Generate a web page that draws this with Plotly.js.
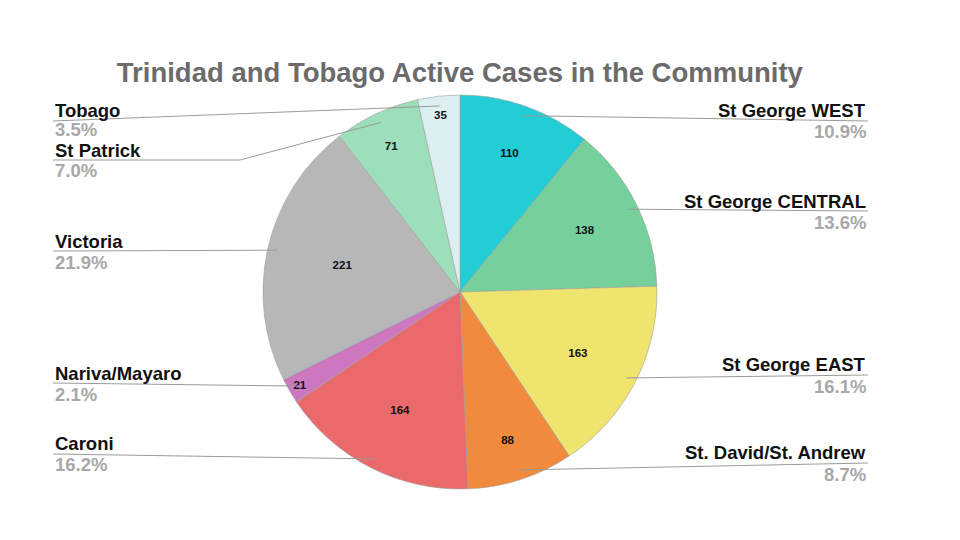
<!DOCTYPE html>
<html>
<head>
<meta charset="utf-8">
<script src="https://cdn.plot.ly/plotly-3.0.1.min.js"></script>
<style>html,body{margin:0;padding:0;background:#fff;}#chart{width:960px;height:540px;}</style>
</head>
<body>
<div id="chart"></div>
<script>
// ---- data ----
const regions = ["St George WEST","St George CENTRAL","St George EAST","St. David/St. Andrew","Caroni","Nariva/Mayaro","Victoria","St Patrick","Tobago"];
const activeCases = [110,138,163,88,164,21,221,71,35];
const sliceColors = ["#22CDD5","#76D09C","#EFE46E","#F08A3C","#EA6A6C","#CC77C0","#B7B7B7","#9DDFBA","#DDF0F1"];
const chartTitle = "Trinidad and Tobago Active Cases in the Community";

// ---- layout config (positions, px) ----
const W = 960, H = 540;
const cx = 460, cy = 292, R = 197;
const labelPos = [
  {side:'R', nameY:110, pctY:131, lineY:121, elbow:null},
  {side:'R', nameY:201, pctY:222, lineY:211, elbow:null},
  {side:'R', nameY:364, pctY:386, lineY:375, elbow:null},
  {side:'R', nameY:452, pctY:474, lineY:463, elbow:null},
  {side:'L', nameY:443, pctY:464, lineY:454, elbow:null},
  {side:'L', nameY:373, pctY:394, lineY:383, elbow:null},
  {side:'L', nameY:241, pctY:262, lineY:251, elbow:null},
  {side:'L', nameY:150, pctY:170, lineY:160, elbow:240},
  {side:'L', nameY:110, pctY:130, lineY:121, elbow:53}
];
const leftX = 53, rightX = 868;
const FONT = 'Liberation Sans, Arial, sans-serif';

const total = activeCases.reduce((a,b)=>a+b,0);
const px = x => x / W;
const py = y => 1 - y / H;

const annotations = [];
const shapes = [];
let cum = 0;
activeCases.forEach((v,i) => {
  const mid = (cum + v/2) / total * 2 * Math.PI;
  cum += v;
  const ex = cx + 0.95 * R * Math.sin(mid);
  const ey = cy - 0.95 * R * Math.cos(mid);
  const p = labelPos[i];
  const lx = p.side === 'L' ? leftX : rightX;
  const anchor = p.side === 'L' ? 'left' : 'right';
  annotations.push({
    x: px(lx), y: py(p.nameY), xref:'paper', yref:'paper', xanchor:anchor, yanchor:'middle',
    text: '<b>' + regions[i] + '</b>', showarrow:false,
    font:{family:FONT, size:18.5, color:'#111'}
  });
  annotations.push({
    x: px(lx), y: py(p.pctY), xref:'paper', yref:'paper', xanchor:anchor, yanchor:'middle',
    text: '<b>' + (v/total*100).toFixed(1) + '%</b>', showarrow:false,
    font:{family:FONT, size:18.5, color:'#A8A8A8'}
  });
  const elbowX = p.elbow === null ? ex : p.elbow;
  const elbowY = p.elbow === null ? ey : p.lineY;
  const path = 'M ' + px(lx) + ',' + py(p.lineY) +
               ' L ' + px(elbowX) + ',' + py(elbowY) +
               ' L ' + px(ex) + ',' + py(ey);
  shapes.push({type:'path', xref:'paper', yref:'paper', path: path,
    line:{color:'#9A9A9A', width:1}});
});

const trace = {
  type:'pie',
  labels: regions,
  values: activeCases,
  sort:false,
  direction:'clockwise',
  rotation:0,
  marker:{colors: sliceColors, line:{color:'#A0A0A0', width:0.6}},
  textinfo:'value',
  texttemplate:'<b>%{value}</b>',
  textposition:'inside',
  insidetextorientation:'horizontal',
  textfont:{family:FONT, size:11.5, color:'#111'},
  hoverinfo:'label+value+percent',
  showlegend:false,
  domain:{x:[(cx-R)/W,(cx+R)/W], y:[py(cy+R), py(cy-R)]}
};

const layout = {
  width:W, height:H,
  margin:{l:0,r:0,t:0,b:0},
  paper_bgcolor:'#fff',
  title:{text:'<b>'+chartTitle+'</b>', x:0.479, xanchor:'center', y:py(72), yanchor:'middle',
    font:{family:FONT, size:27.5, color:'#6B6B6B'}},
  annotations: annotations,
  shapes: shapes,
  showlegend:false
};

Plotly.newPlot('chart', [trace], layout, {displayModeBar:false, staticPlot:true});
</script>
</body>
</html>
